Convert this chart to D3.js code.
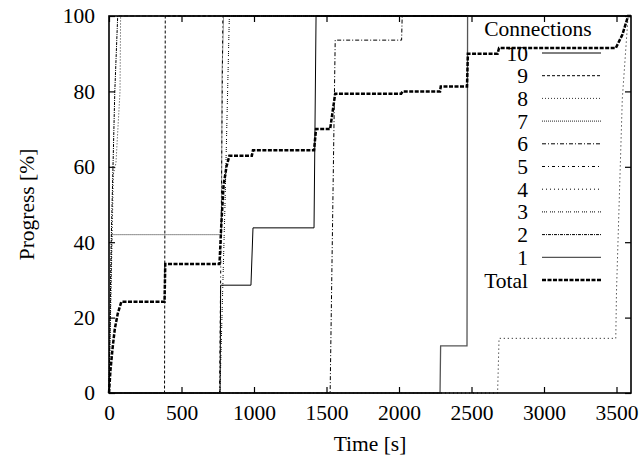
<!DOCTYPE html>
<html><head><meta charset="utf-8">
<script src="https://cdn.jsdelivr.net/npm/d3@7"></script>
<style>
body{margin:0;background:#fff;}
svg text{font-family:'Liberation Serif','Times New Roman',Times,'Nimbus Roman','DejaVu Serif',serif !important;fill:#000;}
</style></head>
<body><svg id="c" width="641" height="462"></svg>
<script>
// ---- data: [time (s), progress (%)] per connection ----
const conn10 = [[0,0],[766,0],[770,28.6],[979,28.6],[993,43.8],[1414,43.8],[1428,100],[3600,100]];
const conn9  = [[0,0],[383,0],[388,100],[3600,100]];
const conn8  = [[0,0],[30,58],[48,61],[76,80],[80,100],[3600,100]];
const conn7  = [[0,0],[20,42],[775,42],[780,85],[790,100],[3600,100]];
const conn6  = [[0,0],[1525,0],[1560,93.6],[2018,93.6],[2022,100],[3600,100]];
const conn5  = [[0,0],[762,0],[775,50],[785,100],[3600,100]];
const conn4  = [[0,0],[2680,0],[2690,14.5],[3495,14.5],[3500,27],[3540,78],[3580,100],[3600,100]];
const conn3  = [[0,0],[765,0],[800,50],[830,100],[3600,100]];
const conn2  = [[0,0],[15,40],[40,80],[60,100],[3600,100]];
const conn1  = [[0,0],[2283,0],[2287,12.5],[2469,12.5],[2473,100],[3600,100]];
const total  = [[0,0],[10,6],[25,12],[40,17],[60,21],[85,24.2],[383,24.2],[388,34.2],[762,34.2],[775,45],[790,55],[810,60],[830,62.9],[985,62.9],[993,64.4],[1414,64.4],[1428,70],[1525,70],[1560,79.4],[2015,79.4],[2025,80],[2283,80],[2288,81.3],[2469,81.3],[2475,90],[2680,90],[2690,91.5],[3495,91.5],[3540,95],[3580,100],[3600,100]];

const legendLabels = ["10","9","8","7","6","5","4","3","2","1","Total"];
const xTicks = [0,500,1000,1500,2000,2500,3000,3500];
const yTicks = [0,20,40,60,80,100];

const seriesData = [conn10,conn9,conn8,conn7,conn6,conn5,conn4,conn3,conn2,conn1,total];
const styles = [
  {c:"#000", w:1, d:null},
  {c:"#000", w:1, d:"3,2"},
  {c:"#333", w:1, d:"1,2"},
  {c:"#222", w:1, d:"1,1"},
  {c:"#000", w:1, d:"4,2,1,2"},
  {c:"#000", w:1, d:"3,3,1,3"},
  {c:"#000", w:1, d:"1,3"},
  {c:"#000", w:1, d:"1,1,1,1,1,3"},
  {c:"#000", w:1, d:"3,1,1,1"},
  {c:"#555", w:1.3, d:null},
  {c:"#000", w:2.5, d:"4,1.5"}
];

const FONT = "'Liberation Serif','Times New Roman',Times,'Nimbus Roman','DejaVu Serif',serif";
const fs = 21.5;

const svg = d3.select("#c");
const L=109, R=631, T=16, B=393;
const x = d3.scaleLinear().domain([0,3600]).range([L,R]);
const y = d3.scaleLinear().domain([0,100]).range([B,T]);

const line = d3.line().x(d=>x(d[0])).y(d=>y(d[1]));
const g = svg.append("g");
seriesData.forEach((s,i)=>{
  g.append("path").datum(s).attr("d",line).attr("fill","none")
   .attr("stroke",styles[i].c).attr("stroke-width",styles[i].w)
   .attr("stroke-dasharray",styles[i].d);
});

// axes (ticks inside, mirrored)
const axB = d3.axisBottom(x).tickValues(xTicks).tickSize(-6).tickPadding(12).tickFormat(d3.format("d"));
const axT = d3.axisTop(x).tickValues(xTicks).tickSize(-6).tickFormat("");
const axL = d3.axisLeft(y).tickValues(yTicks).tickSize(-6).tickPadding(14);
const axR = d3.axisRight(y).tickValues(yTicks).tickSize(-6).tickFormat("");
function style(sel){
  sel.attr("font-family",FONT).attr("font-size",fs);
  sel.select(".domain").remove();
  sel.selectAll("line").attr("stroke","#000").attr("stroke-width",1.2);
  sel.selectAll("text").style("font-size",fs+"px").style("font-family",FONT);
}
svg.append("g").attr("transform",`translate(0,${B})`).call(axB).call(style);
svg.append("g").attr("transform",`translate(0,${T})`).call(axT).call(style);
svg.append("g").attr("transform",`translate(${L},0)`).call(axL).call(style);
svg.append("g").attr("transform",`translate(${R},0)`).call(axR).call(style);
svg.append("rect").attr("x",L).attr("y",T).attr("width",R-L).attr("height",B-T)
  .attr("fill","none").attr("stroke","#000").attr("stroke-width",1.6);

function txt(xx,yy,s,anchor){
  return svg.append("text").attr("x",xx).attr("y",yy).attr("text-anchor",anchor||"middle")
    .style("font-family",FONT).style("font-size",fs+"px").text(s);
}
// axis titles
txt((L+R)/2, 451, "Time [s]");
svg.append("text").attr("transform",`translate(34,${(T+B)/2}) rotate(-90)`)
  .attr("text-anchor","middle").style("font-family",FONT).style("font-size",fs+"px").text("Progress [%]");

// legend
txt(538, 36, "Connections");
legendLabels.forEach((lab,i)=>{
  const yy = 53 + i*22.7;
  txt(528, yy+7.5, lab, "end");
  svg.append("line").attr("x1",542).attr("x2",601).attr("y1",yy).attr("y2",yy)
    .attr("stroke",styles[i].c).attr("stroke-width",styles[i].w)
    .attr("stroke-dasharray",styles[i].d);
});
</script></body></html>
